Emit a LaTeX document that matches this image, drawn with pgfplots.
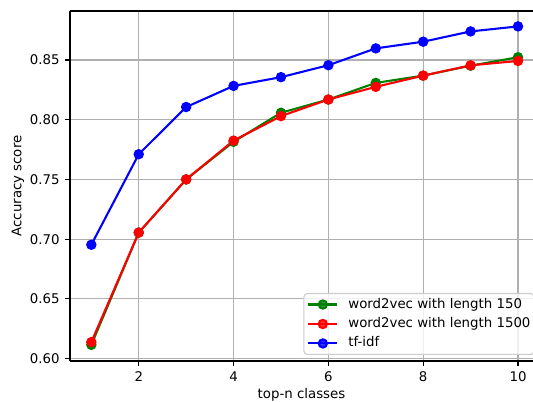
\documentclass[border=0pt]{standalone}
\usepackage{pgfplots}
\pgfplotsset{compat=1.18}
\usepackage{fontspec}
\setmainfont{DejaVu Sans}
\definecolor{mplgreen}{rgb}{0,0.5,0}
\definecolor{mplred}{rgb}{1,0,0}
\definecolor{mplblue}{rgb}{0,0,1}
\definecolor{gridgray}{HTML}{B0B0B0}
\begin{document}
\begin{tikzpicture}
\begin{axis}[
  name=ax,
  scale only axis,
  width=347.25pt, height=262.5pt,
  xmin=0.55, xmax=10.316,
  ymin=0.598, ymax=0.891,
  axis x line=box, axis y line=left,
  axis line style={-, line width=0.83pt, black},
  xtick={2,4,6,8,10},
  ytick={0.60,0.65,0.70,0.75,0.80,0.85},
  xtick pos=bottom, ytick pos=left,
  tick align=outside,
  major tick length=3.65pt,
  every tick/.style={black, line width=0.83pt},
  grid=major,
  grid style={gridgray, line width=0.83pt},
  font=\fontsize{10}{12}\selectfont,
  tick label style={font=\fontsize{10}{12}\selectfont},
  /pgf/number format/assume math mode=true,
  yticklabel style={/pgf/number format/.cd, fixed, fixed zerofill, precision=2, /tikz/.cd, inner sep=0pt},
  xticklabel style={inner sep=0pt},
  xticklabel shift=4pt,
  yticklabel shift=4pt,
  xlabel={top-n classes},
  ylabel={Accuracy score},
  xlabel style={at={(axis description cs:0.5,-0.0971)}, anchor=center, inner sep=0pt},
  ylabel style={at={(axis description cs:-0.1123,0.5)}, anchor=center, inner sep=0pt},
  legend cell align=left,
  legend image code/.code={\draw[mark repeat=2,mark phase=2] plot coordinates {(0pt,0pt) (10.9pt,0pt) (21.75pt,0pt)};},
  legend style={at={(axis description cs:1,0)}, anchor=south east, xshift=1pt, yshift=4.5pt,
    draw=black!20, line width=0.8pt, rounded corners=2.5pt, fill=white, fill opacity=0.8, text opacity=1,
    font=\fontsize{10}{12}\selectfont,
    inner xsep=2.5pt, inner ysep=3.5pt,
    nodes={inner sep=0pt, text height=7.4pt, text depth=2.1pt},
    row sep=5.1pt,
    /tikz/every odd column/.append style={column sep=7.5pt}},
  every axis plot/.append style={line width=1.56pt, mark=*, mark size=3.1pt},
]
\addplot[mplgreen, mark options={fill=mplgreen, draw=mplgreen}] coordinates {
(1,0.6115) (2,0.7055) (3,0.7500) (4,0.7815) (5,0.8058) (6,0.8169) (7,0.8308) (8,0.8369) (9,0.8452) (10,0.8523)
};
\addlegendentry{word2vec with length 150}
\addplot[mplred, mark options={fill=mplred, draw=mplred}] coordinates {
(1,0.6138) (2,0.7055) (3,0.7500) (4,0.7825) (5,0.8030) (6,0.8169) (7,0.8275) (8,0.8369) (9,0.8455) (10,0.8492)
};
\addlegendentry{word2vec with length 1500}
\addplot[mplblue, mark options={fill=mplblue, draw=mplblue}] coordinates {
(1,0.6953) (2,0.7711) (3,0.8106) (4,0.8283) (5,0.8356) (6,0.8456) (7,0.8597) (8,0.8653) (9,0.8739) (10,0.8781)
};
\addlegendentry{tf-idf}
\end{axis}
\pgfresetboundingbox
\path[use as bounding box] ([xshift=-52.5pt,yshift=-30.75pt]ax.south west) rectangle ([yshift=8.25pt]ax.north east);
\end{tikzpicture}
\end{document}
